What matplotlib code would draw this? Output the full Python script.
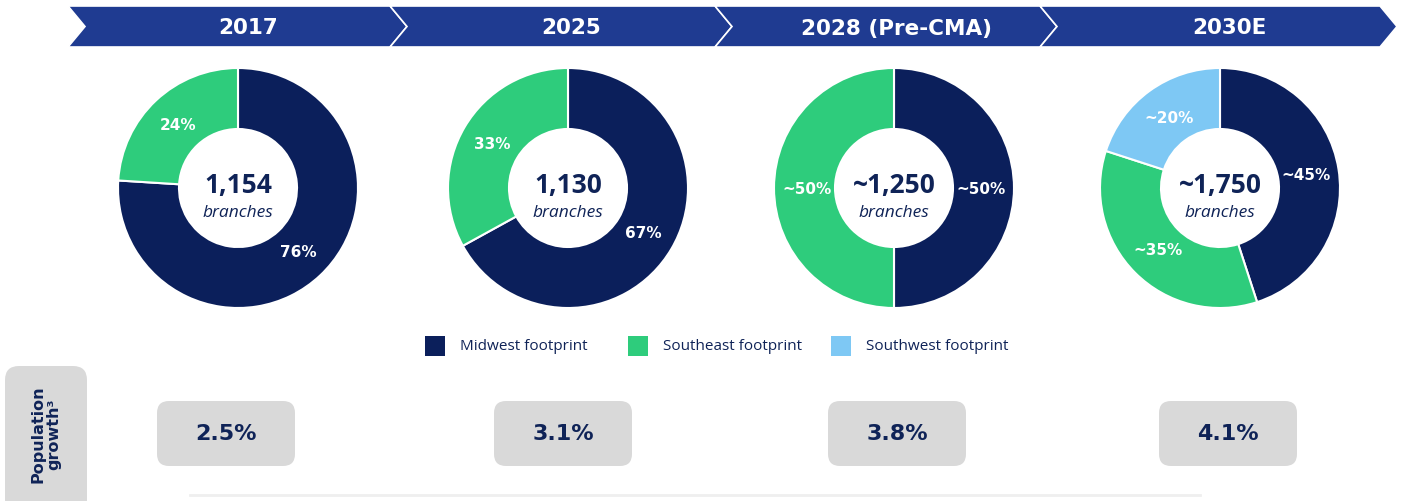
import matplotlib
matplotlib.use("Agg")
import matplotlib.pyplot as plt
from matplotlib.patches import Polygon, FancyBboxPatch, Rectangle
import numpy as np

# ---------------- data ----------------
periods = ["2017", "2025", "2028 (Pre-CMA)", "2030E"]
branch_totals = ["1,154", "1,130", "~1,250", "~1,750"]
midwest = [76, 67, 50, 45]
southeast = [24, 33, 50, 35]
southwest = [0, 0, 0, 20]
midwest_labels = ["76%", "67%", "~50%", "~45%"]
southeast_labels = ["24%", "33%", "~50%", "~35%"]
southwest_labels = ["", "", "", "~20%"]
legend_labels = ["Midwest footprint", "Southeast footprint", "Southwest footprint"]
pop_growth = ["2.5%", "3.1%", "3.8%", "4.1%"]

# ---------------- style ----------------
NAVY = "#0b1f5b"
GREEN = "#2ecc7c"
LBLUE = "#7ec8f4"
BANNER = "#1f3b91"
GREY = "#d9d9d9"
TXT = "#0f2357"
colors = [NAVY, GREEN, LBLUE]
WIDE = ["DejaVu Sans"]
SANS = ["Open Sans", "DejaVu Sans"]

plt.rcParams["font.family"] = SANS

W, H = 1408, 502
fig = plt.figure(figsize=(W / 100, H / 100), dpi=100)
ax = fig.add_axes([0, 0, 1, 1])

def Y(y):  # image y (top-down) -> data y (bottom-up)
    return H - y

# ---------------- banner ----------------
seg_x = [68, 390, 715, 1040, 1380]
top, bot, d = 7, 48, 17
mid = (top + bot) / 2
for i, lab in enumerate(periods):
    x0, x1 = seg_x[i], seg_x[i + 1]
    pts = [(x0, Y(top)), (x1, Y(top)), (x1 + d, Y(mid)), (x1, Y(bot)),
           (x0, Y(bot)), (x0 + d, Y(mid))]
    ax.add_patch(Polygon(pts, closed=True, facecolor=BANNER, edgecolor="white",
                         linewidth=1.2, zorder=2))
    cx = (x0 + x1) / 2 + 19
    ax.text(cx, Y(mid + 1), lab, color="white", fontsize=15.5, fontweight="bold",
            family=WIDE, ha="center", va="center", zorder=3)

# ---------------- donuts ----------------
centers_x = [238, 568, 894, 1220]
cy = 189
R = 120
wedge_w = 61
for i in range(4):
    vals = [midwest[i], southeast[i], southwest[i]]
    labs = [midwest_labels[i], southeast_labels[i], southwest_labels[i]]
    keep = [k for k, v in enumerate(vals) if v > 0]
    v = [vals[k] for k in keep]
    c = [colors[k] for k in keep]
    wedges, _ = ax.pie(v, colors=c, startangle=90, counterclock=False,
                       center=(centers_x[i], Y(cy)), radius=R,
                       wedgeprops=dict(width=wedge_w, edgecolor="white", linewidth=1.5),
                       frame=True)
    for w, k in zip(wedges, keep):
        ang = np.deg2rad((w.theta1 + w.theta2) / 2)
        rr = R - wedge_w / 2 - 2
        ax.text(centers_x[i] + rr * np.cos(ang), Y(cy) + rr * np.sin(ang), labs[k],
                color="white", fontsize=11, fontweight="bold", family=WIDE,
                ha="center", va="center", zorder=5)
    ax.text(centers_x[i], Y(cy - 4), branch_totals[i], color=TXT, fontsize=19,
            fontweight="bold", ha="center", va="center", zorder=5)
    ax.text(centers_x[i], Y(cy + 24), "branches", color=TXT, fontsize=12.5,
            fontstyle="italic", ha="center", va="center", zorder=5)

# ---------------- legend ----------------
leg_x = [425, 628, 831]
leg_y = 347
sq = 20
for lx, col, lab in zip(leg_x, colors, legend_labels):
    ax.add_patch(Rectangle((lx, Y(leg_y + sq / 2)), sq, sq, facecolor=col,
                           edgecolor="none", zorder=3))
    ax.text(lx + sq + 15, Y(leg_y), lab, color=TXT, fontsize=11,
            ha="left", va="center", zorder=3)

# ---------------- population growth ----------------
ax.add_patch(FancyBboxPatch((5, Y(515)), 82, 148, boxstyle="round,pad=0,rounding_size=14",
                            facecolor=GREY, edgecolor="none", zorder=2))
ax.text(46, Y(434), "Population\ngrowth³", rotation=90, color=TXT, fontsize=11.5,
        fontweight="bold", family=WIDE, ha="center", va="center",
        linespacing=1.1, zorder=3)

box_cx = [226, 563, 897, 1228]
box_w, box_h = 138, 65
box_top = 402
for bcx, val in zip(box_cx, pop_growth):
    bx = bcx - box_w / 2
    ax.add_patch(FancyBboxPatch((bx, Y(box_top + box_h)), box_w, box_h,
                                boxstyle="round,pad=0,rounding_size=12",
                                facecolor=GREY, edgecolor="none", zorder=2))
    ax.text(bcx, Y(box_top + box_h / 2), val, color=TXT, fontsize=16,
            fontweight="bold", family=WIDE, ha="center", va="center", zorder=3)

ax.plot([190, 1200], [Y(496), Y(496)], color="#efefef", linewidth=2, zorder=1)

ax.set_xlim(0, W)
ax.set_ylim(0, H)
ax.set_aspect("auto")
ax.axis("off")
fig.savefig("out.png", dpi=100, facecolor="white")
